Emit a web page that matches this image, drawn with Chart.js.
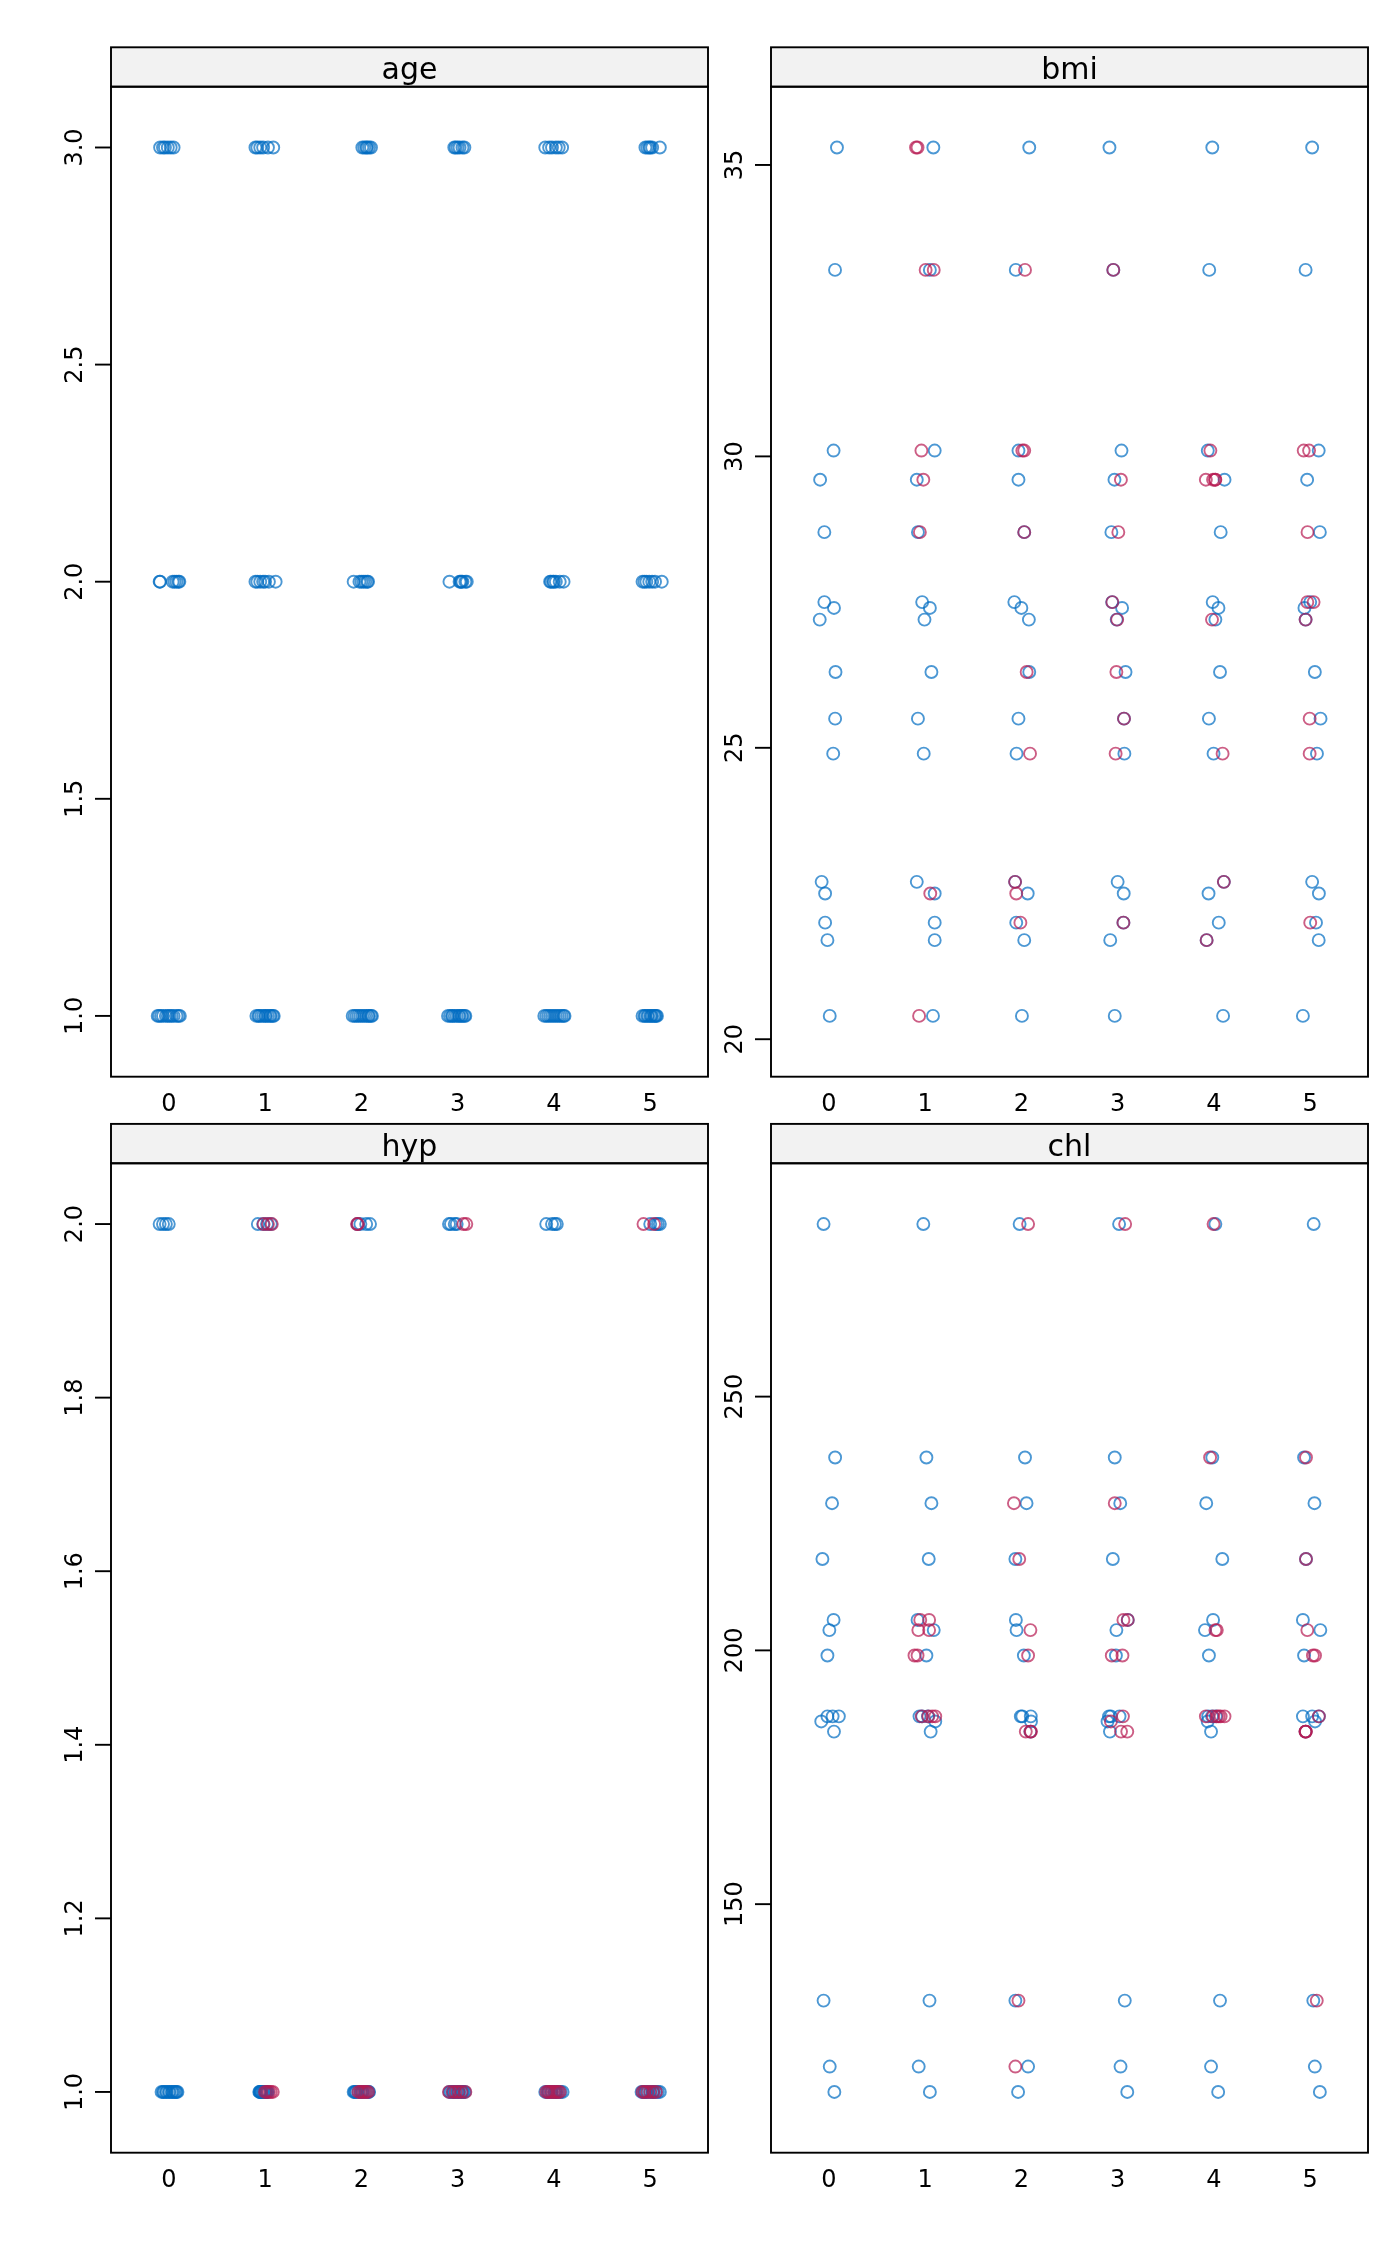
<!DOCTYPE html>
<html><head><meta charset="utf-8">
<script src="https://cdn.jsdelivr.net/npm/chart.js@4.4.1/dist/chart.umd.min.js"></script>
<style>
html,body{margin:0;padding:0;background:#fff;}
body{width:1400px;height:2266px;position:relative;overflow:hidden;}
canvas{position:absolute;}
</style></head><body>
<canvas id="c_age"></canvas>
<canvas id="c_bmi"></canvas>
<canvas id="c_hyp"></canvas>
<canvas id="c_chl"></canvas>
<script>
// ---------------- data ----------------
const imputations = [0, 1, 2, 3, 4, 5];
const xTickLabels = ['0', '1', '2', '3', '4', '5'];

// age (no missing values)
const ageObserved = [3,3,3,3,3,3, 2,2,2,2,2,2,2, 1,1,1,1,1,1,1,1,1,1,1,1];
const ageObsJitter = [
  [-0.09,-0.06,-0.04,-0.01,0.02,0.05, -0.095,-0.09,0.04,0.06,0.08,0.1,0.11, -0.115,-0.1,-0.08,-0.06,-0.03,-0.01,0.01,0.03,0.05,0.08,0.1,0.115],
  [-0.1,-0.08,-0.05,-0.02,0.03,0.085, -0.1,-0.08,-0.05,-0.02,0,0.04,0.11, -0.09,-0.07,-0.06,-0.04,-0.02,0,0.01,0.03,0.05,0.06,0.08,0.09],
  [0.01,0.03,0.05,0.06,0.08,0.1, -0.08,-0.02,0,0.02,0.04,0.06,0.07, -0.09,-0.07,-0.05,-0.03,-0.01,0.01,0.03,0.05,0.07,0.08,0.1,0.11],
  [-0.035,-0.02,0,0.02,0.05,0.07, -0.085,0.02,0.03,0.04,0.05,0.08,0.095, -0.1,-0.08,-0.06,-0.05,-0.03,-0.01,0.01,0.02,0.04,0.05,0.07,0.08],
  [-0.09,-0.05,-0.02,0.02,0.05,0.085, -0.04,-0.03,-0.01,0,0.02,0.06,0.1, -0.1,-0.08,-0.06,-0.04,-0.02,0,0.02,0.04,0.06,0.08,0.1,0.11],
  [-0.05,-0.03,-0.01,0,0.02,0.1, -0.08,-0.06,-0.04,-0.01,0.02,0.05,0.12, -0.08,-0.06,-0.05,-0.03,-0.02,0,0.01,0.02,0.04,0.05,0.06,0.07]
];
const ageImputed = [[], [], [], [], [], []];
const ageImpJitter = [[], [], [], [], [], []];
const ageTicks = [1.0, 1.5, 2.0, 2.5, 3.0];
const ageTickLabels = ['1.0', '1.5', '2.0', '2.5', '3.0'];

// bmi
const bmiObserved = [35.3,33.2,30.1,29.6,28.7,27.5,27.4,27.2,26.3,25.5,24.9,22.7,22.5,22.0,21.7,20.4];
const bmiObsJitter = [
  [0.085,0.065,0.05,-0.09,-0.046,-0.046,0.054,-0.094,0.07,0.066,0.046,-0.074,-0.038,-0.038,-0.014,0.01],
  [0.086,0.05,0.10,-0.086,-0.074,-0.03,0.05,-0.006,0.066,-0.074,-0.014,-0.086,0.10,0.10,0.10,0.082],
  [0.082,-0.058,-0.03,-0.03,0.03,-0.073,0.0,0.078,0.082,-0.03,-0.05,-0.065,0.066,-0.053,0.03,0.006],
  [-0.085,-0.045,0.04,-0.033,-0.065,-0.057,0.046,-0.01,0.082,0.066,0.07,0.0,0.063,0.06,-0.077,-0.03],
  [-0.017,-0.049,-0.064,0.11,0.07,-0.013,0.047,0.015,0.063,-0.052,-0.004,0.103,-0.056,0.05,-0.076,0.095],
  [0.02,-0.048,0.088,-0.032,0.1,0.0,-0.06,-0.048,0.048,0.107,0.07,0.02,0.09,0.06,0.088,-0.076]
];
const bmiImputed = [
  [],
  [35.3,35.3,33.2,33.2,30.1,29.6,28.7,22.5,20.4],
  [33.2,30.1,30.1,28.7,26.3,24.9,22.7,22.5,22.0],
  [33.2,29.6,28.7,27.5,27.2,26.3,25.5,24.9,22.0],
  [30.1,29.6,29.6,29.6,29.6,27.2,24.9,22.7,21.7],
  [30.1,30.1,28.7,27.5,27.5,27.2,25.5,24.9,22.0]
];
const bmiImpJitter = [
  [],
  [-0.094,-0.078,0.006,0.09,-0.038,-0.018,-0.054,0.054,-0.062],
  [0.038,0.01,0.03,0.03,0.055,0.09,-0.065,-0.053,-0.01],
  [-0.045,0.034,0.007,-0.055,-0.005,-0.013,0.066,-0.021,0.06],
  [-0.037,-0.084,-0.009,0.015,0.012,-0.02,0.09,0.103,-0.076],
  [-0.068,-0.012,-0.028,-0.03,0.035,-0.048,-0.006,-0.006,0.0]
];
const bmiTicks = [20, 25, 30, 35];
const bmiTickLabels = ['20', '25', '30', '35'];

// hyp
const hypObserved = [2,2,2,2, 1,1,1,1,1,1,1,1,1,1,1,1,1];
const hypObsJitter = [
  [-0.095,-0.06,-0.03,0.0, -0.075,-0.06,-0.05,-0.03,-0.02,0,0.01,0.03,0.04,0.055,0.07,0.08,0.09],
  [-0.075,-0.02,0.02,0.06, -0.06,-0.05,-0.04,-0.03,-0.02,-0.01,0,0.01,0.02,-0.055,-0.045,0.005,0.03],
  [-0.04,-0.01,0.05,0.09, -0.08,-0.07,-0.05,-0.03,-0.01,0,0.02,0.04,0.06,0.075,0.08,-0.06,0.01],
  [-0.09,-0.07,-0.03,-0.01, -0.085,-0.07,-0.05,-0.03,-0.01,0,0.02,0.04,0.05,0.06,0.075,-0.04,0.01],
  [-0.08,-0.02,0.01,0.03, -0.09,-0.07,-0.05,-0.03,-0.02,0,0.01,0.03,0.05,0.07,0.09,-0.06,0.02],
  [0.0,0.06,0.08,0.1, -0.09,-0.075,-0.06,-0.04,-0.02,0,0.02,0.04,0.06,0.08,0.1,-0.05,0.03]
];
const hypImputed = [
  [],
  [2,2,2,1,1,1,1,1],
  [2,2,1,1,1,1,1,1],
  [2,2,1,1,1,1,1,1],
  [1,1,1,1,1,1,1,1],
  [2,2,1,1,1,1,1,1]
];
const hypImpJitter = [
  [],
  [-0.015,0.03,0.07,0.0,0.02,0.04,0.06,0.08],
  [-0.045,-0.035,-0.03,-0.01,0.01,0.03,0.05,0.07],
  [0.06,0.09,-0.09,-0.05,-0.02,0.01,0.04,0.08],
  [-0.08,-0.06,-0.04,-0.02,0,0.02,0.04,0.06],
  [-0.07,0.04,-0.08,-0.06,-0.03,0,0.03,0.06]
];
const hypTicks = [1.0, 1.2, 1.4, 1.6, 1.8, 2.0];
const hypTickLabels = ['1.0', '1.2', '1.4', '1.6', '1.8', '2.0'];

// chl
const chlObserved = [284,238,229,218,206,204,199,187,187,187,186,184,131,118,113];
const chlObsJitter = [
  [-0.054,0.066,0.034,-0.066,0.05,0.006,-0.014,-0.014,0.04,0.105,-0.078,0.054,-0.054,0.01,0.058],
  [-0.018,0.014,0.066,0.038,-0.078,0.09,0.014,-0.058,-0.03,0.03,0.106,0.058,0.046,-0.066,0.05],
  [-0.018,0.038,0.054,-0.062,-0.057,-0.05,0.026,-0.006,0.01,0.098,0.1,0.094,-0.062,0.07,-0.034],
  [0.015,-0.03,0.027,-0.05,0.105,-0.013,-0.018,-0.09,-0.07,0.02,-0.105,-0.08,0.074,0.03,0.1],
  [0.015,-0.017,-0.08,0.087,-0.009,-0.093,-0.052,-0.06,-0.02,0.02,-0.065,-0.03,0.063,-0.03,0.044],
  [0.036,-0.064,0.044,-0.044,-0.076,0.105,-0.064,-0.076,0.02,0.09,0.05,-0.048,0.032,0.048,0.1]
];
const chlImputed = [
  [],
  [206,206,204,204,199,199,187,187,187,187],
  [284,229,218,204,199,184,184,184,131,118],
  [284,229,206,206,199,199,187,186,184,184],
  [284,238,204,204,187,187,187,187,187,187],
  [238,218,204,199,199,187,184,184,184,131]
];
const chlImpJitter = [
  [],
  [-0.05,0.042,-0.07,0.042,-0.11,-0.078,-0.034,0.034,0.074,0.106],
  [0.07,-0.077,-0.022,0.094,0.07,0.046,0.094,0.1,-0.03,-0.062],
  [0.078,-0.03,0.06,0.105,-0.061,0.05,0.055,-0.07,0.035,0.1],
  [-0.004,-0.04,0.015,0.03,-0.084,-0.01,0.03,0.05,0.07,0.11],
  [-0.044,-0.044,-0.03,0.028,0.05,0.09,-0.048,-0.045,-0.05,0.068]
];
const chlTicks = [150, 200, 250];
const chlTickLabels = ['150', '200', '250'];

// ---------------- styling / layout ----------------
const BLUE = 'rgba(0,108,194,0.7)';
const RED = 'rgba(182,26,81,0.7)';
const FONT = '"DejaVu Sans", "Noto Sans", sans-serif';
const STRIP_H = 39.4;

const panels = [
  {id:'c_age', title:'age', obs:ageObserved, obsJ:ageObsJitter, imp:ageImputed, impJ:ageImpJitter, ticks:ageTicks, labels:ageTickLabels,
   box:{left:0, top:0, w:712, h:1120}, pad:{left:111, top:86.7, right:4, bottom:43.3}},
  {id:'c_bmi', title:'bmi', obs:bmiObserved, obsJ:bmiObsJitter, imp:bmiImputed, impJ:bmiImpJitter, ticks:bmiTicks, labels:bmiTickLabels,
   box:{left:712, top:0, w:688, h:1120}, pad:{left:59, top:86.7, right:32, bottom:43.3}},
  {id:'c_hyp', title:'hyp', obs:hypObserved, obsJ:hypObsJitter, imp:hypImputed, impJ:hypImpJitter, ticks:hypTicks, labels:hypTickLabels,
   box:{left:0, top:1120, w:712, h:1146}, pad:{left:111, top:43.3, right:4, bottom:113.3}},
  {id:'c_chl', title:'chl', obs:chlObserved, obsJ:chlObsJitter, imp:chlImputed, impJ:chlImpJitter, ticks:chlTicks, labels:chlTickLabels,
   box:{left:712, top:1120, w:688, h:1146}, pad:{left:59, top:43.3, right:32, bottom:113.3}}
];

const panelDecor = {
  id: 'panelDecor',
  afterDatasetsDraw(chart, args, opts) {
    const ctx = chart.ctx, a = chart.chartArea;
    const xs = chart.scales.x, ys = chart.scales.y;
    ctx.save();
    ctx.lineWidth = 1.9;
    ctx.strokeStyle = '#000';
    // strip
    ctx.fillStyle = '#F2F2F2';
    ctx.fillRect(a.left, a.top - STRIP_H, a.right - a.left, STRIP_H);
    ctx.strokeRect(a.left, a.top - STRIP_H, a.right - a.left, STRIP_H);
    ctx.fillStyle = '#000';
    ctx.font = '30px ' + FONT;
    ctx.textAlign = 'center';
    ctx.textBaseline = 'alphabetic';
    ctx.fillText(opts.title, (a.left + a.right) / 2, a.top - 7.4);
    // panel border
    ctx.strokeRect(a.left, a.top, a.right - a.left, a.bottom - a.top);
    // y ticks + rotated labels
    ctx.font = '24px ' + FONT;
    opts.ticks.forEach((v, i) => {
      const py = ys.getPixelForValue(v);
      ctx.beginPath();
      ctx.moveTo(a.left - 16, py);
      ctx.lineTo(a.left, py);
      ctx.stroke();
      ctx.save();
      ctx.translate(a.left - 29, py);
      ctx.rotate(-Math.PI / 2);
      ctx.textAlign = 'center';
      ctx.textBaseline = 'alphabetic';
      ctx.fillText(opts.labels[i], 0, 0);
      ctx.restore();
    });
    // x labels
    imputations.forEach((k, i) => {
      ctx.fillText(xTickLabels[i], xs.getPixelForValue(k), a.bottom + 34);
    });
    ctx.restore();
  }
};

panels.forEach(p => {
  const cv = document.getElementById(p.id);
  cv.width = p.box.w; cv.height = p.box.h;
  cv.style.left = p.box.left + 'px'; cv.style.top = p.box.top + 'px';
  cv.style.width = p.box.w + 'px'; cv.style.height = p.box.h + 'px';

  const obsPts = [], impPts = [];
  imputations.forEach((k, ki) => {
    p.obs.forEach((v, i) => obsPts.push({x: k + p.obsJ[ki][i], y: v}));
    p.imp[ki].forEach((v, j) => impPts.push({x: k + p.impJ[ki][j], y: v}));
  });
  const all = p.obs.concat(...p.imp);
  const lo = Math.min(...all), hi = Math.max(...all);
  const ext = (hi - lo) * 0.07;

  new Chart(cv, {
    type: 'scatter',
    data: {
      datasets: [
        {label: 'imputed', data: impPts, order: 0, pointStyle: 'circle', pointRadius: 6, pointHoverRadius: 6,
         borderColor: RED, backgroundColor: 'rgba(0,0,0,0)', pointBorderWidth: 1.9, borderWidth: 1.9},
        {label: 'observed', data: obsPts, order: 1, pointStyle: 'circle', pointRadius: 6, pointHoverRadius: 6,
         borderColor: BLUE, backgroundColor: 'rgba(0,0,0,0)', pointBorderWidth: 1.9, borderWidth: 1.9}
      ]
    },
    options: {
      responsive: false,
      animation: false,
      devicePixelRatio: 1,
      layout: {padding: p.pad, autoPadding: false},
      plugins: {
        legend: {display: false},
        tooltip: {enabled: false},
        panelDecor: {title: p.title, ticks: p.ticks, labels: p.labels}
      },
      scales: {
        x: {type: 'linear', min: -0.6, max: 5.6, display: false},
        y: {type: 'linear', min: lo - ext, max: hi + ext, display: false}
      }
    },
    plugins: [panelDecor]
  });
});
</script>
</body></html>
